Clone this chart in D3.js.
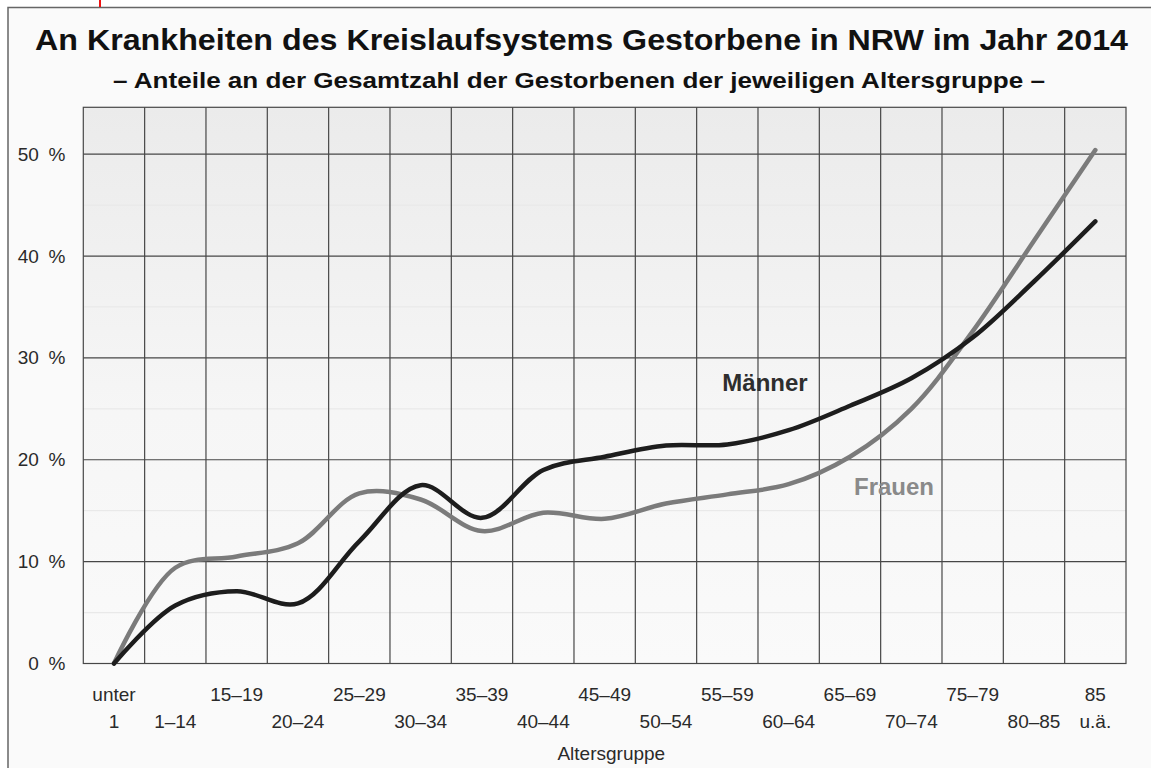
<!DOCTYPE html>
<html>
<head>
<meta charset="utf-8">
<script src="https://cdn.jsdelivr.net/npm/d3@7"></script>
<style>
  body { margin: 0; background: #fff; }
  svg { display: block; font-family: "Liberation Sans", Arial, sans-serif; }
</style>
</head>
<body>
<div id="chart"></div>
<script>
// data (percent of all deaths in the age group)
var ageGroups = ["unter 1", "1–14", "15–19", "20–24", "25–29", "30–34", "35–39", "40–44",
  "45–49", "50–54", "55–59", "60–64", "65–69", "70–74", "75–79", "80–85", "85 u.ä."];
var tickLines = [["unter", "1"], ["", "1–14"], ["15–19", ""], ["", "20–24"], ["25–29", ""],
  ["", "30–34"], ["35–39", ""], ["", "40–44"], ["45–49", ""], ["", "50–54"], ["55–59", ""],
  ["", "60–64"], ["65–69", ""], ["", "70–74"], ["75–79", ""], ["", "80–85"], ["85", "u.ä."]];
var maenner = [0, 5.7, 7.1, 5.9, 12.0, 17.5, 14.3, 19.0, 20.3, 21.4, 21.5, 22.9, 25.3, 28.0, 32.0, 37.5, 43.4];
var frauen = [0, 9.4, 10.5, 11.8, 16.7, 16.1, 13.0, 14.8, 14.2, 15.7, 16.6, 17.6, 20.3, 25.0, 32.6, 41.5, 50.4];
var yTicks = [0, 10, 20, 30, 40, 50];
var yMinor = [5, 15, 25, 35, 45];

var svgWidth = 1151;
var svgHeight = 768;

var margin = {
  top: 107.3,
  right: 25,
  bottom: 104.5,
  left: 83.3
};

var width = svgWidth - margin.left - margin.right;
var height = svgHeight - margin.top - margin.bottom;

var svg = d3.select("#chart")
  .append("svg")
  .attr("width", svgWidth)
  .attr("height", svgHeight);

// gradient for the plot area
var grad = svg.append("defs").append("linearGradient")
  .attr("id", "plotBg")
  .attr("x1", 0).attr("y1", 0).attr("x2", 0).attr("y2", 1);
grad.append("stop").attr("offset", "0%").attr("stop-color", "#ebebeb");
grad.append("stop").attr("offset", "55%").attr("stop-color", "#f6f6f6");
grad.append("stop").attr("offset", "100%").attr("stop-color", "#fafafa");

// outer frame
svg.append("rect")
  .attr("x", 8).attr("y", 7.5)
  .attr("width", svgWidth + 10).attr("height", svgHeight + 10)
  .attr("fill", "#fafafa")
  .attr("stroke", "#666")
  .attr("stroke-width", 1.5);

svg.append("line")
  .attr("x1", 100).attr("x2", 100).attr("y1", 0).attr("y2", 7)
  .attr("stroke", "#ee1111").attr("stroke-width", 2);

// titles
svg.append("text")
  .attr("x", 35).attr("y", 49.5)
  .attr("textLength", 1093).attr("lengthAdjust", "spacingAndGlyphs")
  .attr("font-size", 30).attr("font-weight", "bold").attr("fill", "#111")
  .text("An Krankheiten des Kreislaufsystems  Gestorbene in NRW im Jahr 2014");

svg.append("text")
  .attr("x", 113).attr("y", 87.5)
  .attr("textLength", 932).attr("lengthAdjust", "spacingAndGlyphs")
  .attr("font-size", 22.5).attr("font-weight", "bold").attr("fill", "#111")
  .text("– Anteile an der Gesamtzahl der Gestorbenen der jeweiligen Altersgruppe –");

var chartGroup = svg.append("g")
  .attr("transform", `translate(${margin.left}, ${margin.top})`);

// scales
var xScale = d3.scaleBand()
  .domain(ageGroups)
  .range([0, width])
  .padding(0);

var yScale = d3.scaleLinear()
  .domain([0, 54.6])
  .range([height, 0]);

var xc = d => xScale(d) + xScale.bandwidth() / 2;

chartGroup.append("rect")
  .attr("width", width).attr("height", height)
  .attr("fill", "url(#plotBg)");

// faint 5% lines
chartGroup.selectAll(".minor")
  .data(yMinor)
  .enter()
  .append("line")
  .attr("x1", 0).attr("x2", width)
  .attr("y1", d => yScale(d)).attr("y2", d => yScale(d))
  .attr("stroke", "#e9e9e9").attr("stroke-width", 1.2);

// vertical grid between age groups
chartGroup.selectAll(".vgrid")
  .data(ageGroups.slice(1))
  .enter()
  .append("line")
  .attr("x1", d => xScale(d)).attr("x2", d => xScale(d))
  .attr("y1", 0).attr("y2", height)
  .attr("stroke", "#474747").attr("stroke-width", 1.2);

// horizontal grid
chartGroup.selectAll(".hgrid")
  .data(yTicks)
  .enter()
  .append("line")
  .attr("x1", 0).attr("x2", width)
  .attr("y1", d => yScale(d)).attr("y2", d => yScale(d))
  .attr("stroke", "#474747").attr("stroke-width", 1.2);

chartGroup.append("rect")
  .attr("width", width).attr("height", height)
  .attr("fill", "none")
  .attr("stroke", "#474747").attr("stroke-width", 1.2);

// y axis
var yAxis = d3.axisLeft(yScale)
  .tickValues(yTicks)
  .tickSize(0)
  .tickPadding(18)
  .tickFormat(d => d + "\u2002%");

var yg = chartGroup.append("g").call(yAxis);
yg.select(".domain").remove();
yg.selectAll("text")
  .attr("font-family", "Liberation Sans, Arial, sans-serif")
  .attr("font-size", 19)
  .attr("fill", "#2a2a2a");

// x axis, labels in two staggered rows
var xAxis = d3.axisBottom(xScale).tickSize(0).tickFormat("");
var xg = chartGroup.append("g")
  .attr("transform", `translate(0,${height})`)
  .call(xAxis);
xg.select(".domain").remove();
xg.selectAll(".tick text").each(function(d, i) {
  var t = d3.select(this)
    .attr("y", 0).attr("dy", null)
    .attr("font-family", "Liberation Sans, Arial, sans-serif")
    .attr("font-size", 19)
    .attr("fill", "#2a2a2a");
  t.append("tspan").attr("x", 0).attr("y", 37.5).text(tickLines[i][0]);
  t.append("tspan").attr("x", 0).attr("y", 64).text(tickLines[i][1]);
});

chartGroup.append("text")
  .attr("x", 528).attr("y", height + 97)
  .attr("text-anchor", "middle")
  .attr("font-size", 19).attr("fill", "#2a2a2a")
  .text("Altersgruppe");

// lines
var line = d3.line()
  .x((d, i) => xc(ageGroups[i]))
  .y(d => yScale(d))
  .curve(d3.curveCatmullRom.alpha(0.5));

chartGroup.append("path")
  .datum(frauen)
  .attr("d", line)
  .attr("fill", "none")
  .attr("stroke", "#7b7b7b")
  .attr("stroke-width", 4.5)
  .attr("stroke-linecap", "round");

chartGroup.append("path")
  .datum(maenner)
  .attr("d", line)
  .attr("fill", "none")
  .attr("stroke", "#1d1d1d")
  .attr("stroke-width", 4.5)
  .attr("stroke-linecap", "round");

// series labels
chartGroup.append("text")
  .attr("x", xc(ageGroups[10]) - 5)
  .attr("y", yScale(26.75))
  .attr("font-size", 24).attr("font-weight", "bold").attr("fill", "#2e2e2e")
  .text("Männer");

chartGroup.append("text")
  .attr("x", xc(ageGroups[12]) + 4)
  .attr("y", yScale(16.5))
  .attr("font-size", 24).attr("font-weight", "bold").attr("fill", "#8a8a8a")
  .text("Frauen");
</script>
</body>
</html>
